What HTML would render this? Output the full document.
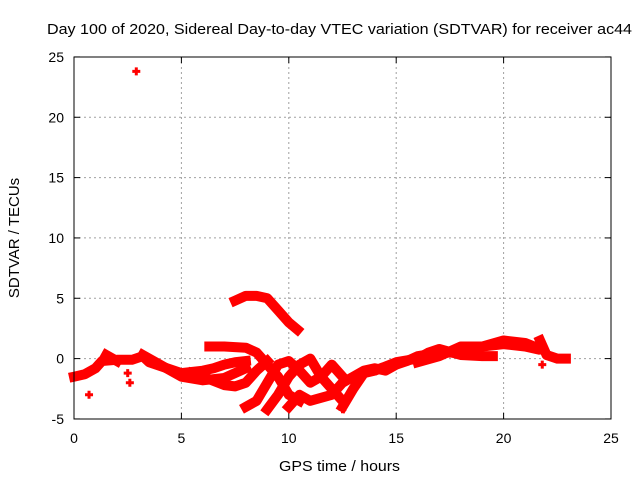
<!DOCTYPE html>
<html><head><meta charset="utf-8"><style>
body{margin:0;background:#fff;}
svg text{font-family:"Liberation Sans",sans-serif;font-size:14px;fill:#000;}
</style></head><body>
<svg id="chart" width="640" height="480">
<text x="47" y="34" textLength="585" lengthAdjust="spacingAndGlyphs" style="font-size:15px">Day 100 of 2020, Sidereal Day-to-day VTEC variation (SDTVAR) for receiver ac44</text>
<text x="279" y="471" textLength="121" lengthAdjust="spacingAndGlyphs" style="font-size:15px">GPS time / hours</text>
<text transform="translate(19,238) rotate(-90)" text-anchor="middle" style="font-size:15px">SDTVAR / TECUs</text>
<g id="grid"></g><g id="ticks"></g><g id="marks"></g>
<rect x="74" y="57" width="537" height="362" fill="none" stroke="#000" stroke-width="1"/>
</svg>
<script>
const xTicks=[0,5,10,15,20,25];
const yTicks=[-5,0,5,10,15,20,25];
const trackA=[[0,-1.5],[0.5,-1.3],[1,-0.8],[1.3,-0.2],[2,-0.1],[2.7,-0.1],[3.2,0.2],[3.5,-0.3],[4,-0.6],[5,-1.2],[6,-1.0],[6.5,-0.8],[7,-0.5],[7.5,-0.3],[8,-0.2]];
const trackB=[[3.2,0.3],[4,-0.5],[5,-1.5],[6,-1.8],[7,-1.6],[8,-0.8]];
const trackC=[[7.5,4.8],[8,5.2],[8.5,5.2],[9,5.0],[9.5,4.0],[10,3.0],[10.4,2.4]];
const trackD=[[6.3,1.0],[7,1.0],[8,0.9],[8.5,0.5],[9,-0.5],[9.5,-1.5],[10,-3],[10.5,-3.5]];
const trackE=[[5.5,-1.2],[6,-1.5],[7,-2.2],[7.5,-2.3],[8,-2.0],[8.5,-1.0],[9,-0.2]];
const trackF=[[8,-4.0],[8.5,-3.5],[9,-2],[9.5,-0.5],[10,-0.2],[10.5,-1],[11,-2],[11.5,-1.5],[12,-0.5],[12.5,-1.5]];
const trackG=[[9,-4.2],[9.5,-3],[10,-1.5],[10.5,-0.5],[11,0],[11.5,-1.5],[12,-2.5],[12.5,-3.5]];
const trackH=[[10,-4.0],[10.5,-3],[11,-3.5],[12,-3.0],[12.5,-2.0],[13,-1.5],[13.5,-1],[14,-0.8],[14.5,-1],[15,-0.5],[15.5,-0.2],[16,0.2],[17,0.5],[18,0.5],[19,1.0],[20,1.2],[21,1.0],[21.5,0.8]];
const trackI=[[12.5,-4],[13,-2.5],[13.5,-1.2],[14,-1.0],[15,-0.3],[16,0],[16.5,0.5],[17,0.8],[18,0.3],[19,0.2],[19.5,0.2]];
const trackJ=[[16,-0.3],[17,0.2],[18,1.0],[19,1.0],[20,1.5],[21,1.3],[21.7,0.8]];
const trackK=[[21.7,1.5],[22,0.3],[22.5,0],[22.9,0.0]];
const trackL=[[1.5,0.3],[2,-0.2]];
const tracks=[trackA,trackB,trackC,trackD,trackE,trackF,trackG,trackH,trackI,trackJ,trackK,trackL];
const isolated=[[2.9,23.8],[0.7,-3.0],[2.6,-2.0],[2.5,-1.2],[21.8,-0.5],[12.5,-4.2]];
const X=h=>74+h*537/25, Y=v=>358.6-v*362/30;
const NS="http://www.w3.org/2000/svg";
const g=document.getElementById('grid'),t=document.getElementById('ticks'),m=document.getElementById('marks');
function mk(tag,a,p){const e=document.createElementNS(NS,tag);for(const k in a)e.setAttribute(k,a[k]);p.appendChild(e);return e;}
xTicks.forEach(v=>{const x=X(v);
 if(v>0&&v<25){const l=mk('line',{x1:x,x2:x,y1:57,y2:419,stroke:'#a0a0a0','stroke-dasharray':'2,3'},g);
 
 }
 mk('line',{x1:x,x2:x,y1:419,y2:413,stroke:'#000'},t);mk('line',{x1:x,x2:x,y1:57,y2:63,stroke:'#000'},t);
 const tx=mk('text',{x:x,y:443,'text-anchor':'middle'},t);tx.textContent=v;
 
 });
yTicks.forEach(v=>{const y=Y(v);
 if(v>-5&&v<25){const l=mk('line',{x1:74,x2:611,y1:y,y2:y,stroke:'#a0a0a0','stroke-dasharray':'2,3'},g);
 
 }
 mk('line',{x1:74,x2:80,y1:y,y2:y,stroke:'#000'},t);mk('line',{x1:611,x2:605,y1:y,y2:y,stroke:'#000'},t);
 const tx=mk('text',{x:64,y:y+5,'text-anchor':'end'},t);tx.textContent=v;
 
 });
tracks.forEach(tr=>{const pl=mk('polyline',{points:tr.map(p=>X(p[0])+','+Y(p[1])).join(' '),fill:'none',stroke:'#ff0000','stroke-width':10,'stroke-linejoin':'round','stroke-linecap':'square'},m);
 
 });
isolated.forEach(p=>{const x=X(p[0]),y=Y(p[1]);
 const pt=mk('path',{d:`M${x-4},${y}H${x+4}M${x},${y-4}V${y+4}`,stroke:'#ff0000','stroke-width':3},m);
 
 });
</script>
</body></html>
